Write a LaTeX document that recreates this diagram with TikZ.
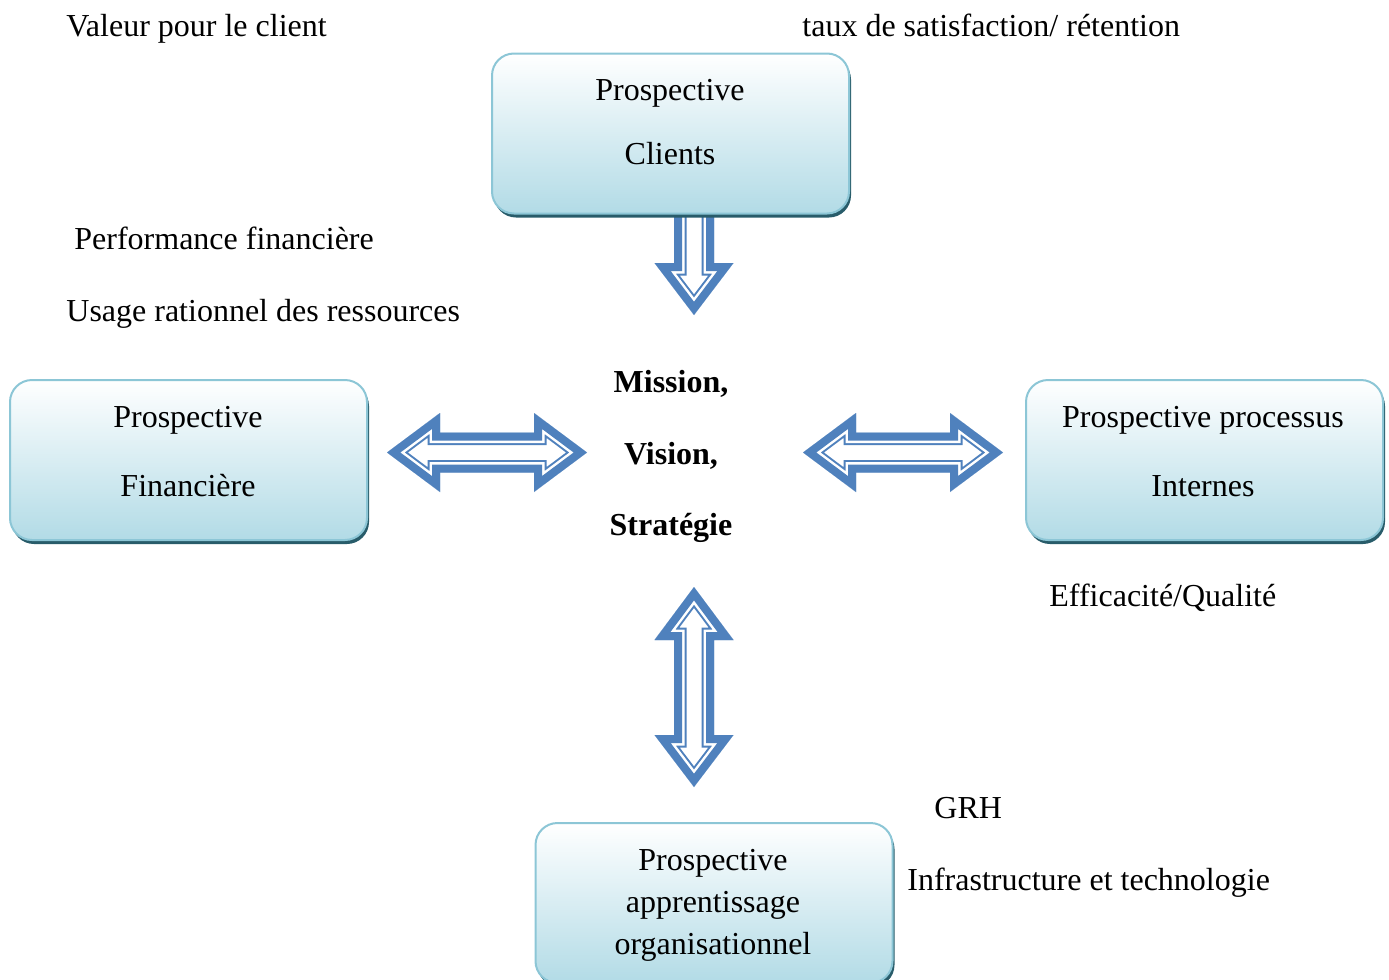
\documentclass[tikz,border=0pt]{standalone}
\usepackage{fontspec}
\setmainfont{Liberation Serif}
\usetikzlibrary{shadows}
\definecolor{arrowblue}{RGB}{79,129,189}
\definecolor{boxline}{RGB}{140,198,214}
\definecolor{boxfill}{RGB}{178,219,230}
\definecolor{boxshadow}{RGB}{40,92,106}
\tikzset{
  persp/.style={rounded corners=11pt, draw=boxline, line width=1pt,
    top color=white, bottom color=boxfill, minimum width=178.5pt, minimum height=80pt,
    drop shadow={shadow xshift=1pt, shadow yshift=-2pt, fill=boxshadow, opacity=1}},
  txt/.style={font=\fontsize{16}{19}\selectfont, anchor=base, inner sep=0pt},
  lbl/.style={txt, anchor=base west},
  core/.style={txt, font=\fontsize{16}{19}\selectfont\bfseries},
  band/.style={line join=miter, miter limit=20}
}
% block arrow: thick outer band, white gap, thin inner line
\newcommand{\bigarrow}[1]{%
  \begin{scope}
    \clip #1;
    \fill[white] #1;
    \draw[band, arrowblue, line width=12.5pt] #1;
    \draw[band, white, line width=10.5pt] #1;
    \draw[band, arrowblue, line width=8pt] #1;
  \end{scope}}
\begin{document}
\begin{tikzpicture}[line cap=round,line join=round,x=0.5pt,y=-0.5pt]
\useasboundingbox (0,0) rectangle (1389,980);
% arrows
\bigarrow{(674,180) -- (714,180) -- (714,263) -- (733.5,263) -- (694,315) -- (654.5,263) -- (674,263) -- cycle}
\bigarrow{(387,452.5) -- (440,413) -- (440,432.5) -- (534,432.5) -- (534,413) -- (587,452.5) -- (534,492) -- (534,472.5) -- (440,472.5) -- (440,492) -- cycle}
\bigarrow{(803,452.5) -- (856,413) -- (856,432.5) -- (950,432.5) -- (950,413) -- (1003,452.5) -- (950,492) -- (950,472.5) -- (856,472.5) -- (856,492) -- cycle}
\bigarrow{(694,587) -- (733.5,640) -- (714,640) -- (714,735) -- (733.5,735) -- (694,787) -- (654.5,735) -- (674,735) -- (674,640) -- (654.5,640) -- cycle}
% boxes
\node[persp] (cli) at (670.5,133.5) {};
\node[persp] (fin) at (188.5,460) {};
\node[persp] (proc) at (1204.5,460) {};
\node[persp] (appr) at (714,903) {};
\node[txt] (cli-1) at (670,100) {Prospective};
\node[txt] (cli-2) at (670,164) {Clients};
\node[txt] (fin-1) at (188,427) {Prospective};
\node[txt] (fin-2) at (188,496) {Financière};
\node[txt] (proc-1) at (1203,427) {Prospective processus};
\node[txt] (proc-2) at (1203,496) {Internes};
\node[txt] (appr-1) at (713,870) {Prospective};
\node[txt] (appr-2) at (713,912) {apprentissage};
\node[txt] (appr-3) at (713,954) {organisationnel};
% centre
\node[core] (mis) at (671,392) {Mission,};
\node[core] (vis) at (671,464) {Vision,};
\node[core] (strat) at (671,535) {Stratégie};
% indicators
\node[lbl] (val) at (66,36) {Valeur pour le client};
\node[lbl] (taux) at (802,36) {taux de satisfaction/ rétention};
\node[lbl] (perf) at (74,249) {Performance financière};
\node[lbl] (usage) at (66,321) {Usage rationnel des ressources};
\node[lbl] (eff) at (1049,606) {Efficacité/Qualité};
\node[lbl] (grh) at (934,818) {GRH};
\node[lbl] (infra) at (907,890) {Infrastructure et technologie};
\end{tikzpicture}
\end{document}
